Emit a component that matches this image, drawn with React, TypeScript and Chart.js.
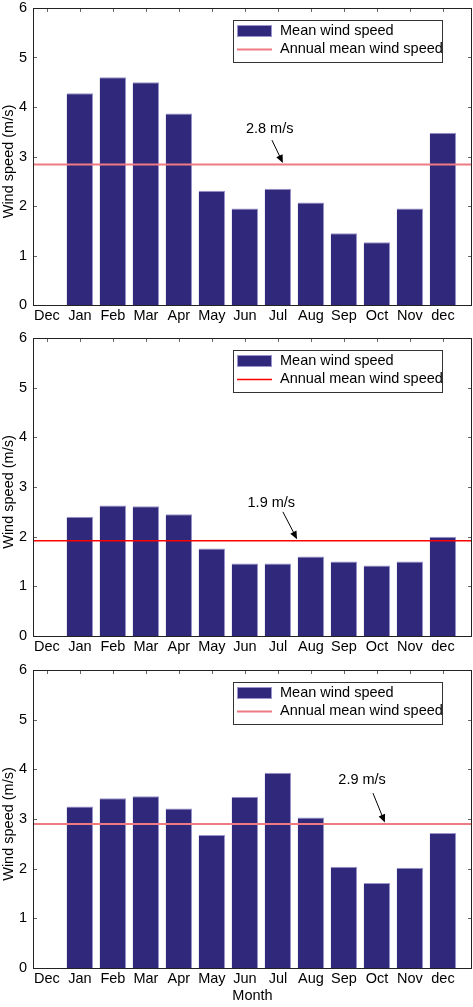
import React, { useEffect, useRef } from 'react';
import { Chart, registerables } from 'chart.js';

Chart.register(...registerables);

// ---------- data ----------
const months = ['Dec', 'Jan', 'Feb', 'Mar', 'Apr', 'May', 'Jun', 'Jul', 'Aug', 'Sep', 'Oct', 'Nov', 'dec'];
const yTickValues = [0, 1, 2, 3, 4, 5, 6];

const speedsTop = [null, 4.28, 4.6, 4.5, 3.87, 2.31, 1.95, 2.35, 2.07, 1.45, 1.27, 1.95, 3.48];
const speedsMiddle = [null, 2.4, 2.63, 2.61, 2.45, 1.76, 1.46, 1.46, 1.6, 1.5, 1.42, 1.5, 2.0];
const speedsBottom = [null, 3.25, 3.42, 3.46, 3.21, 2.68, 3.45, 3.93, 3.03, 2.04, 1.71, 2.02, 2.72];

const annualMeans = [2.84, 1.92, 2.9];
const annualLabels = ['2.8 m/s', '1.9 m/s', '2.9 m/s'];

// annotation anchor points in data units [x, y]
const labelAt = [[6.75, 3.55], [6.8, 2.68], [9.55, 3.78]];
const arrowFrom = [[6.82, 3.33], [7.15, 2.5], [9.88, 3.52]];
const arrowTo = [[7.15, 2.87], [7.58, 1.95], [10.24, 2.93]];

const xMin = -0.42;
const xMax = 12.88;

const FONT = '"Liberation Sans", Arial, Helvetica, sans-serif';
const FS = 14.5;
const BAR_COLOR = '#30287a';
const BAR_EDGE = '#9a95cc';

interface PanelCfg {
  idx: number;
  speeds: (number | null)[];
  height: number;
  areaTop: number;
  xAxisHeight: number;
  lineColor: string;
  lineWidth: number;
  showMonthTitle: boolean;
}

const panels: PanelCfg[] = [
  { idx: 0, speeds: speedsTop, height: 330, areaTop: 8, xAxisHeight: 25, lineColor: '#ee7a84', lineWidth: 2, showMonthTitle: false },
  { idx: 1, speeds: speedsMiddle, height: 330, areaTop: 8, xAxisHeight: 24, lineColor: '#ff0000', lineWidth: 1.5, showMonthTitle: false },
  { idx: 2, speeds: speedsBottom, height: 347, areaTop: 10, xAxisHeight: 39, lineColor: '#ee7a84', lineWidth: 2, showMonthTitle: true },
];

function Panel({ cfg }: { cfg: PanelCfg }) {
  const ref = useRef<HTMLCanvasElement | null>(null);

  useEffect(() => {
    if (!ref.current) return;
    const i = cfg.idx;

    const decorPlugin = {
      id: 'decor' + i,
      afterDatasetsDraw(chart: any) {
        const { ctx, chartArea: a, scales } = chart;
        const x = scales.x;
        const y = scales.y;
        ctx.save();
        // inward ticks
        ctx.strokeStyle = '#666';
        ctx.lineWidth = 1;
        ctx.beginPath();
        months.forEach((_, k) => {
          const px = Math.round(x.getPixelForValue(k)) + 0.5;
          ctx.moveTo(px, a.top);
          ctx.lineTo(px, a.top + 4);
        });
        yTickValues.forEach((v) => {
          const py = Math.round(y.getPixelForValue(v)) + 0.5;
          ctx.moveTo(a.left, py);
          ctx.lineTo(a.left + 4, py);
          ctx.moveTo(a.right - 4, py);
          ctx.lineTo(a.right, py);
        });
        ctx.stroke();
        // frame
        ctx.strokeStyle = '#222';
        ctx.strokeRect(a.left + 0.5, a.top + 0.5, a.right - a.left - 1, a.bottom - a.top);

        // annotation
        ctx.fillStyle = '#000';
        ctx.strokeStyle = '#000';
        ctx.font = FS + 'px ' + FONT;
        ctx.textAlign = 'center';
        ctx.textBaseline = 'middle';
        ctx.fillText(annualLabels[i], x.getPixelForValue(labelAt[i][0]), y.getPixelForValue(labelAt[i][1]));
        const x0 = x.getPixelForValue(arrowFrom[i][0]);
        const y0 = y.getPixelForValue(arrowFrom[i][1]);
        const x1 = x.getPixelForValue(arrowTo[i][0]);
        const y1 = y.getPixelForValue(arrowTo[i][1]);
        const ang = Math.atan2(y1 - y0, x1 - x0);
        const hl = 8;
        const hw = 3.5;
        ctx.lineWidth = 1;
        ctx.beginPath();
        ctx.moveTo(x0, y0);
        ctx.lineTo(x1 - Math.cos(ang) * hl * 0.8, y1 - Math.sin(ang) * hl * 0.8);
        ctx.stroke();
        ctx.beginPath();
        ctx.moveTo(x1, y1);
        ctx.lineTo(x1 - Math.cos(ang) * hl - Math.sin(ang) * hw, y1 - Math.sin(ang) * hl + Math.cos(ang) * hw);
        ctx.lineTo(x1 - Math.cos(ang) * hl + Math.sin(ang) * hw, y1 - Math.sin(ang) * hl - Math.cos(ang) * hw);
        ctx.closePath();
        ctx.fill();

        // legend
        const lx = a.left + 200;
        const ly = a.top + 12;
        const lw = 209;
        const lh = 42;
        ctx.fillStyle = '#fff';
        ctx.fillRect(lx, ly, lw, lh);
        ctx.strokeStyle = '#333';
        ctx.lineWidth = 1;
        ctx.strokeRect(lx + 0.5, ly + 0.5, lw, lh);
        const ds = chart.data.datasets;
        const barDs = ds[0];
        const lineDs = ds[1];
        ctx.fillStyle = BAR_COLOR;
        ctx.fillRect(lx + 4, ly + 5, 35, 12);
        ctx.strokeStyle = BAR_EDGE;
        ctx.strokeRect(lx + 4.5, ly + 5.5, 34, 11);
        ctx.strokeStyle = cfg.lineColor;
        ctx.lineWidth = cfg.lineWidth;
        ctx.beginPath();
        ctx.moveTo(lx + 4, ly + 29.5);
        ctx.lineTo(lx + 39, ly + 29.5);
        ctx.stroke();
        ctx.fillStyle = '#000';
        ctx.textAlign = 'left';
        ctx.textBaseline = 'middle';
        ctx.fillText(barDs.label, lx + 47, ly + 11);
        ctx.fillText(lineDs.label, lx + 47, ly + 29);

        // y-axis title
        ctx.save();
        ctx.translate(8.5, (a.top + a.bottom) / 2 + 5);
        ctx.rotate(-Math.PI / 2);
        ctx.textAlign = 'center';
        ctx.textBaseline = 'middle';
        ctx.fillText('Wind speed (m/s)', 0, 0);
        ctx.restore();

        ctx.restore();
      },
    };

    const chart = new Chart(ref.current, {
      type: 'bar',
      data: {
        datasets: [
          {
            type: 'bar',
            label: 'Mean wind speed',
            data: months.map((_, k) => ({ x: k, y: cfg.speeds[k] })) as any,
            backgroundColor: BAR_COLOR,
            borderColor: BAR_EDGE,
            borderWidth: { top: 1, right: 1, left: 0, bottom: 0 } as any,
            barPercentage: 0.8,
            categoryPercentage: 1,
            order: 1,
          },
          {
            type: 'line',
            label: 'Annual mean wind speed',
            data: [
              { x: xMin, y: annualMeans[i] },
              { x: xMax, y: annualMeans[i] },
            ] as any,
            borderColor: cfg.lineColor,
            borderWidth: cfg.lineWidth,
            pointRadius: 0,
            order: 0,
          } as any,
        ],
      },
      options: {
        animation: false,
        responsive: false,
        events: [],
        layout: { padding: { top: cfg.areaTop, right: 1, left: 0, bottom: 0 } },
        plugins: {
          legend: { display: false },
          tooltip: { enabled: false },
        },
        scales: {
          x: {
            type: 'linear',
            min: xMin,
            max: xMax,
            offset: false,
            grid: { display: false, drawTicks: false },
            border: { display: false },
            afterBuildTicks: (s: any) => {
              s.ticks = months.map((_, k) => ({ value: k }));
            },
            afterFit: (s: any) => {
              s.height = cfg.xAxisHeight;
              s.paddingLeft = 0;
              s.paddingRight = 0;
            },
            ticks: {
              autoSkip: false,
              maxRotation: 0,
              minRotation: 0,
              padding: 2,
              color: '#000',
              font: { family: FONT, size: FS },
              callback: (v: any) => months[v as number] ?? '',
            },
            title: {
              display: cfg.showMonthTitle,
              text: 'Month',
              color: '#000',
              font: { family: FONT, size: FS },
              padding: { top: 0, bottom: 2 },
            },
          },
          y: {
            min: 0,
            max: 6,
            grid: { display: false, drawTicks: false },
            border: { display: false },
            afterBuildTicks: (s: any) => {
              s.ticks = yTickValues.map((v) => ({ value: v }));
            },
            afterFit: (s: any) => {
              s.width = 33;
              s.paddingTop = 0;
              s.paddingBottom = 0;
            },
            ticks: {
              padding: 6,
              color: '#000',
              font: { family: FONT, size: FS },
            },
          },
        },
      } as any,
      plugins: [decorPlugin],
    });

    return () => chart.destroy();
  }, [cfg]);

  return (
    <canvas
      ref={ref}
      width={473}
      height={cfg.height}
      style={{ display: 'block', width: 473, height: cfg.height }}
    />
  );
}

export default function App() {
  return (
    <div style={{ position: 'absolute', left: 0, top: 0, width: 473, background: '#fff' }}>
      {panels.map((p) => (
        <Panel key={p.idx} cfg={p} />
      ))}
    </div>
  );
}
